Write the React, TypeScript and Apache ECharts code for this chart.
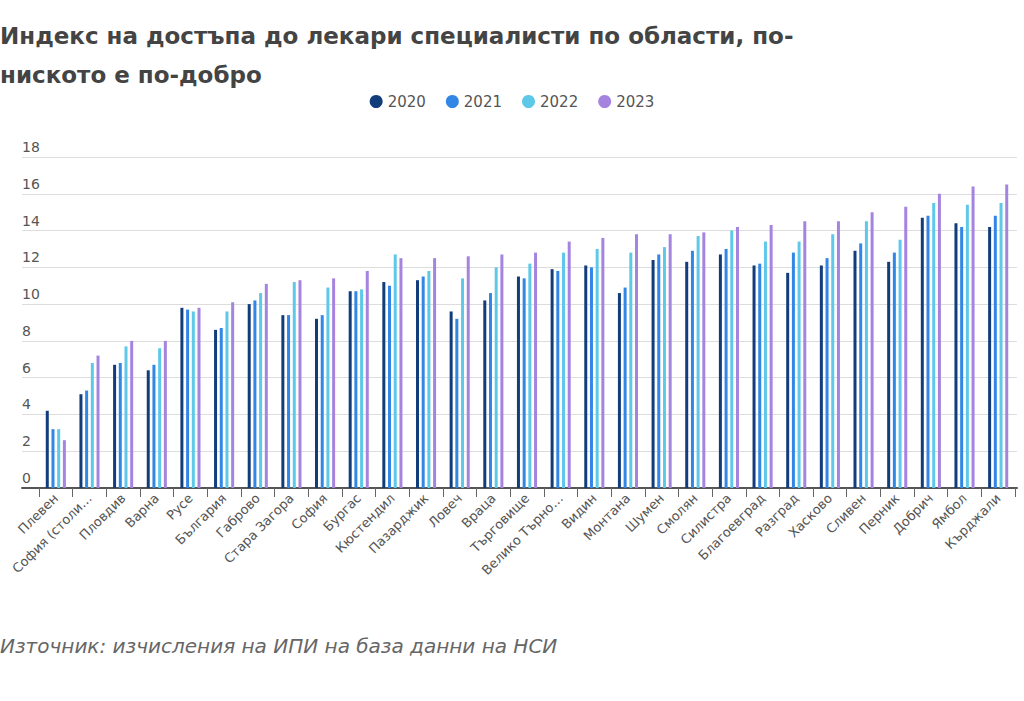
import React, { useEffect, useRef } from "react";
import * as echarts from "echarts";

const categories = [
  "Плевен", "София (столица)", "Пловдив", "Варна", "Русе", "България", "Габрово",
  "Стара Загора", "София", "Бургас", "Кюстендил", "Пазарджик", "Ловеч", "Враца",
  "Търговище", "Велико Търново", "Видин", "Монтана", "Шумен", "Смолян", "Силистра",
  "Благоевград", "Разград", "Хасково", "Сливен", "Перник", "Добрич", "Ямбол", "Кърджали",
];
const years = ["2020", "2021", "2022", "2023"];
const v2020 = [4.2, 5.1, 6.7, 6.4, 9.8, 8.6, 10.0, 9.4, 9.2, 10.7, 11.2, 11.3, 9.6, 10.2, 11.5, 11.9, 12.1, 10.6, 12.4, 12.3, 12.7, 12.1, 11.7, 12.1, 12.9, 12.3, 14.7, 14.4, 14.2];
const v2021 = [3.2, 5.3, 6.8, 6.7, 9.7, 8.7, 10.2, 9.4, 9.4, 10.7, 11.0, 11.5, 9.2, 10.6, 11.4, 11.8, 12.0, 10.9, 12.7, 12.9, 13.0, 12.2, 12.8, 12.5, 13.3, 12.8, 14.8, 14.2, 14.8];
const v2022 = [3.2, 6.8, 7.7, 7.6, 9.6, 9.6, 10.6, 11.2, 10.9, 10.8, 12.7, 11.8, 11.4, 12.0, 12.2, 12.8, 13.0, 12.8, 13.1, 13.7, 14.0, 13.4, 13.4, 13.8, 14.5, 13.5, 15.5, 15.4, 15.5];
const v2023 = [2.6, 7.2, 8.0, 8.0, 9.8, 10.1, 11.1, 11.3, 11.4, 11.8, 12.5, 12.5, 12.6, 12.7, 12.8, 13.4, 13.6, 13.8, 13.8, 13.9, 14.2, 14.3, 14.5, 14.5, 15.0, 15.3, 16.0, 16.4, 16.5];
const seriesValues = [v2020, v2021, v2022, v2023];
const colors = ["#123d7a", "#3186e6", "#5ec8e8", "#a584e0"];
const yTicks = { min: 0, max: 18, interval: 2 };

const FONT = "'DejaVu Sans', 'Noto Sans', sans-serif";

export default function App() {
  const ref = useRef<HTMLDivElement>(null);
  useEffect(() => {
    document.body.style.margin = "0";
    if (!ref.current) return;
    const chart = echarts.init(ref.current, null, { renderer: "svg" });
    const gridTop = 157;
    const gridHeight = 331;
    chart.setOption({
      animation: false,
      textStyle: { fontFamily: FONT },
      title: [
        {
          text: "Индекс на достъпа до лекари специалисти по области, по-\nниското е по-добро",
          left: 0,
          top: 16,
          padding: 0,
          textStyle: { fontFamily: FONT, fontSize: 23, fontWeight: "bold", color: "#444", lineHeight: 39 },
        },
        {
          text: "Източник: изчисления на ИПИ на база данни на НСИ",
          left: 0,
          top: 636,
          padding: 0,
          textStyle: { fontFamily: FONT, fontSize: 20, fontStyle: "italic", fontWeight: "normal", color: "#666" },
        },
      ],
      legend: {
        top: 89,
        left: "center",
        icon: "circle",
        itemWidth: 13,
        itemHeight: 13,
        itemGap: 20,
        data: years,
        textStyle: { fontFamily: FONT, fontSize: 15, color: "#555" },
      },
      grid: [
        { left: 22, right: 7, top: gridTop, height: gridHeight },
        { left: 39, right: 9, top: gridTop, height: gridHeight },
      ],
      xAxis: [
        {
          gridIndex: 0,
          type: "category",
          data: [""],
          axisLine: { show: true, lineStyle: { color: "#555", width: 2 } },
          axisTick: { show: false },
          axisLabel: { show: false },
        },
        {
          gridIndex: 1,
          type: "category",
          data: categories,
          axisLine: { show: false },
          axisTick: { show: true, length: 9, lineStyle: { color: "#666", width: 1 } },
          axisLabel: {
            interval: 0,
            rotate: 45,
            margin: 8,
            fontSize: 13,
            color: "#555",
            fontFamily: FONT,
            formatter: (s: string) => (s.length > 13 ? s.slice(0, 12) + "…" : s),
          },
        },
      ],
      yAxis: [
        {
          gridIndex: 0,
          type: "value",
          min: yTicks.min,
          max: yTicks.max,
          interval: yTicks.interval,
          axisLine: { show: false },
          axisTick: { show: false },
          splitLine: { show: true, lineStyle: { color: "#dddddd", width: 1 } },
          axisLabel: {
            inside: true,
            margin: 0,
            align: "left",
            verticalAlign: "bottom",
            padding: [0, 0, 3, 0],
            fontSize: 14,
            color: "#555",
            fontFamily: FONT,
          },
        },
        {
          gridIndex: 1,
          type: "value",
          min: yTicks.min,
          max: yTicks.max,
          interval: yTicks.interval,
          show: false,
          splitLine: { show: false },
        },
      ],
      series: years.map((y, i) => ({
        name: y,
        type: "bar",
        xAxisIndex: 1,
        yAxisIndex: 1,
        data: seriesValues[i],
        barWidth: 3,
        barGap: "90%",
        itemStyle: { color: colors[i] },
      })),
      color: colors,
    });
    return () => chart.dispose();
  }, []);
  return <div ref={ref} style={{ width: 1024, height: 701 }} />;
}
